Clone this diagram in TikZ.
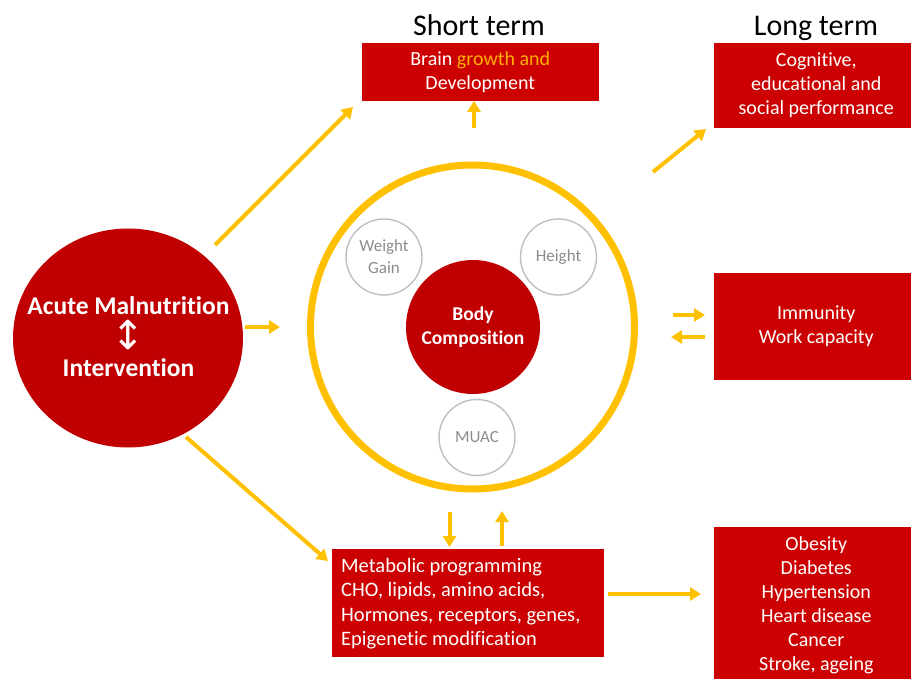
\documentclass[tikz,border=0pt]{standalone}
\usepackage{fontspec}
\setmainfont{Carlito}[Ligatures=NoCommon]
\newfontfamily\symfont{DejaVu Sans}
\usetikzlibrary{arrows.meta,shapes.geometric}
\definecolor{boxred}{HTML}{CC0000}
\definecolor{circred}{HTML}{C00000}
\definecolor{gold}{HTML}{FFC000}
\definecolor{growthc}{HTML}{FFB000}
\definecolor{ringgray}{HTML}{BFBFBF}
\definecolor{txtgray}{HTML}{8C8C8C}
\begin{document}
\begin{tikzpicture}[x=1pt,y=-1pt,
  redbox/.style={fill=boxred, inner sep=0pt, text=white, align=center,
    font=\fontsize{20}{24}\selectfont},
  sidebox/.style={redbox, minimum width=205.5pt},
  yarrow/.style={draw=gold, line width=4pt, -{Triangle[length=11pt,width=13pt]}},
  smallcirc/.style={circle, draw=ringgray, line width=1.4pt, fill=white,
    minimum size=76pt, inner sep=0pt, text=txtgray, align=center,
    font=\fontsize{17}{22}\selectfont},
  heading/.style={anchor=base, font=\fontsize{30}{36}\selectfont, text=black}]
\useasboundingbox[fill=white] (0,0) rectangle (911,679);

% headings
\node[heading] (short) at (479,36) {Short term};
\node[heading] (long) at (816,36) {Long term};

% boxes
\node[redbox, minimum width=236.5pt, minimum height=57.7pt] (brain) at (480.25,71.85)
  {Brain {\color{growthc}growth and}\\Development};
\node[sidebox, minimum height=85pt] (cog) at (816.25,85.5)
  {Cognitive,\\educational and\\social performance};
\node[sidebox, minimum height=107pt] (imm) at (816.25,326.5)
  {Immunity\\Work capacity};
\node[sidebox, minimum height=158pt] (obes) at (816.25,605.5)
  {Obesity\\Diabetes\\Hypertension\\Heart disease\\Cancer\\Stroke, ageing};
\node[redbox, minimum width=272.5pt, minimum height=108pt] (meta) at (467.75,603) {};
\node[anchor=west, align=left, text=white, inner sep=0pt,
  font=\fontsize{20.5}{24.5}\selectfont] (metatext) at (341,603.5)
  {Metabolic programming\\CHO, lipids, amino acids,\\Hormones, receptors, genes,\\Epigenetic modification};

% acute malnutrition
\node[ellipse, fill=circred, minimum width=230pt, minimum height=219pt, inner sep=0pt] (acute) at (128,338) {};
\node[align=center, text=white, inner sep=0pt, font=\bfseries\fontsize{25.5}{31}\selectfont] (acutetext) at (128.5,337)
  {Acute Malnutrition\\\smash{\raisebox{-4pt}{\symfont\mdseries\fontsize{40}{40}\selectfont ↕}}\\Intervention};

% ring and inner circles
\node[circle, draw=gold, line width=7pt, minimum size=324pt, inner sep=0pt] (ring) at (472.5,327) {};
\node[circle, fill=circred, minimum size=134pt, inner sep=0pt, text=white, align=center,
  font=\bfseries\fontsize{19.5}{24.5}\selectfont] (body) at (473,327) {Body\\Composition};
\node[smallcirc] (weight) at (384,257) {Weight\\Gain};
\node[smallcirc] (height) at (558.5,257) {Height};
\node[smallcirc] (muac) at (477,437.5) {MUAC};

% arrow end points
\coordinate (a1s) at (215,245);  \coordinate (a1e) at (353,107);
\coordinate (a2s) at (245,327);  \coordinate (a2e) at (280,327);
\coordinate (a3s) at (186,437);  \coordinate (a3e) at (328,561);
\coordinate (a4s) at (474,128);  \coordinate (a4e) at (474,101);
\coordinate (a5s) at (653,172);  \coordinate (a5e) at (706,129);
\coordinate (a6s) at (673,315);  \coordinate (a6e) at (705,315);
\coordinate (a7s) at (705,337);  \coordinate (a7e) at (671,337);
\coordinate (a8s) at (449.5,512); \coordinate (a8e) at (449.5,547);
\coordinate (a9s) at (502,546);  \coordinate (a9e) at (502,511);
\coordinate (a10s) at (608,594); \coordinate (a10e) at (701,594);

\draw[yarrow] (a1s) -- (a1e);
\draw[yarrow] (a2s) -- (a2e);
\draw[yarrow] (a3s) -- (a3e);
\draw[yarrow] (a4s) -- (a4e);
\draw[yarrow] (a5s) -- (a5e);
\draw[yarrow] (a6s) -- (a6e);
\draw[yarrow] (a7s) -- (a7e);
\draw[yarrow] (a8s) -- (a8e);
\draw[yarrow] (a9s) -- (a9e);
\draw[yarrow] (a10s) -- (a10e);
\end{tikzpicture}
\end{document}
